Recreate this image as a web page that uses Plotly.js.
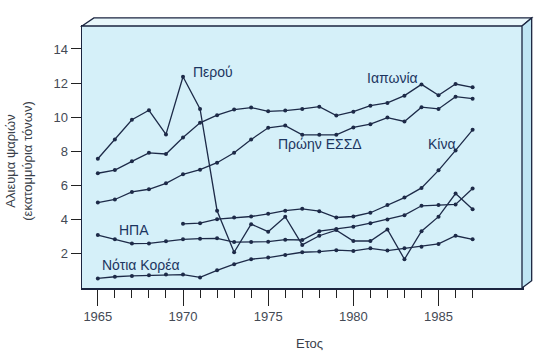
<!DOCTYPE html>
<html>
<head>
<meta charset="utf-8">
<script src="https://cdn.plot.ly/plotly-3.0.1.min.js"></script>
<style>html,body{margin:0;padding:0;background:#fff;}#chart{width:545px;height:353px;}</style>
</head>
<body>
<div id="chart"></div>
<script>
const years = [1965,1966,1967,1968,1969,1970,1971,1972,1973,1974,1975,1976,1977,1978,1979,1980,1981,1982,1983,1984,1985,1986,1987];
const peru  = [7.55,8.68,9.84,10.4,8.98,12.37,10.48,4.5,2.06,3.71,3.27,4.15,2.49,3.03,3.36,2.72,2.72,3.40,1.65,3.30,4.15,5.51,4.59];
const japan = [6.70,6.89,7.40,7.90,7.83,8.80,9.66,10.11,10.44,10.56,10.34,10.38,10.48,10.61,10.09,10.32,10.67,10.83,11.26,11.92,11.28,11.94,11.75];
const ussr  = [4.98,5.16,5.60,5.76,6.11,6.64,6.91,7.32,7.90,8.68,9.37,9.50,8.96,8.96,8.96,9.39,9.58,9.97,9.74,10.58,10.48,11.20,11.08];
const usa   = [3.07,2.82,2.57,2.58,2.70,2.82,2.86,2.88,2.66,2.66,2.68,2.80,2.78,3.30,3.42,3.56,3.77,3.99,4.24,4.79,4.83,4.87,5.80];
const korea = [0.52,0.62,0.67,0.71,0.75,0.75,0.58,1.00,1.36,1.65,1.75,1.90,2.06,2.10,2.18,2.14,2.29,2.16,2.29,2.39,2.55,3.03,2.82];
const china = [null,null,null,null,null,3.73,3.77,4.00,4.10,4.16,4.32,4.50,4.61,4.47,4.10,4.16,4.38,4.83,5.27,5.84,6.87,8.04,9.25];

const seriesNames = ["Περού","Ιαπωνία","Πρώην ΕΣΣΔ","ΗΠΑ","Νότια Κορέα","Κίνα"];
const seriesData = [peru, japan, ussr, usa, korea, china];
const yTickVals = [2,4,6,8,10,12,14];
const xMajorTicks = [1965,1970,1975,1980,1985];
const xMinorTicks = [1966,1967,1968,1969,1971,1972,1973,1974,1976,1977,1978,1979,1981,1982,1983,1984,1986,1987];
const yTitle = "Αλιευμα ψαριών<br>(εκατομμύρια τόνων)";
const xTitle = "Ετος";

const lineCol = "#1d2a48";
const traces = seriesData.map((d,i)=>({
  x: years, y: d, name: seriesNames[i], type: "scatter", mode: "lines+markers",
  line: {color: lineCol, width: 1.3}, marker: {color: lineCol, size: 4},
  connectgaps: false, hoverinfo: "skip"
}));

const labelFont = {family: "Liberation Sans, Arial, sans-serif", size: 14, color: "#1c3560"};
const labels = [
  {text:"Περού", x:1970.44, y:12.64},
  {text:"Ιαπωνία", x:1980.70, y:12.29},
  {text:"Πρώην ΕΣΣΔ", x:1975.48, y:8.39},
  {text:"Κίνα", x:1984.27, y:8.43},
  {text:"ΗΠΑ", x:1966.10, y:3.35},
  {text:"Νότια Κορέα", x:1965.10, y:1.30}
].map(a=>({text:a.text, x:a.x, y:a.y, xref:"x", yref:"y", xanchor:"left", yanchor:"middle", showarrow:false, font:labelFont}));

labels.push({text: yTitle, textangle: -90, xref:"paper", yref:"paper", x:-0.143, y:0.486,
  xanchor:"center", yanchor:"middle", showarrow:false,
  font:{family:"Liberation Sans, Arial, sans-serif", size:13, color:"#3a3f4a"}});
labels.push({text: xTitle, xref:"paper", yref:"paper", x:0.516, y:-0.21,
  xanchor:"center", yanchor:"middle", showarrow:false,
  font:{family:"Liberation Sans, Arial, sans-serif", size:13, color:"#3a3f4a"}});

const edge = "#1b2540";
const shapes = [
  {type:"path", xref:"paper", yref:"paper", path:"M 0,1 L 0.027,1.031 L 1.022,1.031 L 1,1 Z",
   fillcolor:"#e9f7fb", line:{color:edge, width:1.3}},
  {type:"path", xref:"paper", yref:"paper", path:"M 1,1 L 1.022,1.031 L 1.022,0.028 L 1,0 Z",
   fillcolor:"#bfe5f3", line:{color:edge, width:1.3}}
];

const tickFont = {family:"Liberation Sans, Arial, sans-serif", size:13, color:"#444a55"};
const layout = {
  width: 545, height: 353,
  margin: {l: 82, r: 23, t: 26, b: 64.5, pad: 0},
  paper_bgcolor: "#ffffff",
  plot_bgcolor: "#d5f0f9",
  showlegend: false,
  xaxis: {
    range: [1964.07, 1989.9], tickmode: "array", tickvals: xMajorTicks,
    ticktext: xMajorTicks.map(String), ticks: "outside", ticklen: 16, tickwidth: 1,
    tickcolor: "#222", showgrid: false, zeroline: false,
    showline: true, mirror: true, linecolor: edge, linewidth: 1.5,
    tickfont: tickFont,
    minor: {tickmode: "array", tickvals: xMinorTicks, ticks: "outside", ticklen: 8, tickwidth: 1, tickcolor: "#222", showgrid: false}
  },
  yaxis: {
    range: [-0.04, 15.35], tickmode: "array", tickvals: yTickVals,
    ticks: "outside", ticklen: 10, tickwidth: 1, tickcolor: "#222",
    showgrid: false, zeroline: false,
    showline: true, mirror: true, linecolor: edge, linewidth: 1.5,
    tickfont: tickFont
  },
  annotations: labels,
  shapes: shapes
};

Plotly.newPlot("chart", traces, layout, {displayModeBar: false, staticPlot: true});
</script>
</body>
</html>
